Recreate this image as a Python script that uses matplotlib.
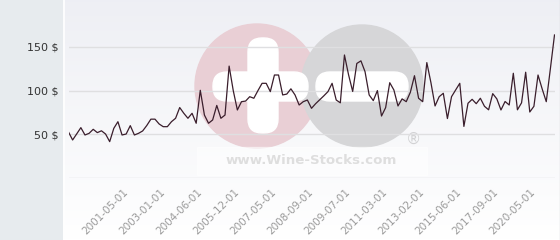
import matplotlib
matplotlib.use('Agg')
import matplotlib.pyplot as plt
import numpy as np
from matplotlib.patches import Circle, FancyBboxPatch, Rectangle

prices = [52.6, 43.5, 50.5, 57.6, 49.2, 51.1, 55.7, 51.9, 54.0, 50.3,
          41.6, 56.8, 64.4, 49.2, 50.3, 59.9, 49.2, 51.1, 53.8, 60.0,
          67.3, 67.3, 61.8, 58.7, 58.7, 64.4, 68.3, 80.6, 74.0, 68.3,
          74.0, 62.6, 100.3, 72.0, 62.6, 66.4, 83.0, 68.3, 72.0, 128.0,
          100.0, 77.8, 87.3, 88.0, 93.0, 91.2, 100.0, 108.3, 108.3, 98.8,
          117.8, 117.8, 95.0, 96.0, 102.0, 95.0, 83.5, 87.3, 89.2, 79.7,
          85.0, 89.5, 94.0, 98.8, 108.3, 89.2, 86.0, 140.7, 118.0, 99.0,
          131.0, 134.0, 121.6, 95.0, 88.5, 100.0, 70.9, 80.5, 109.0, 100.7,
          82.4, 90.5, 87.3, 98.0, 117.0, 91.2, 87.3, 132.0, 109.0, 82.4,
          93.0, 96.9, 68.0, 93.0, 100.7, 108.3, 59.0, 85.5, 90.0, 85.0,
          91.2, 82.0, 78.0, 96.5, 90.5, 77.8, 87.5, 83.5, 119.8, 78.0,
          86.0, 121.0, 75.5, 82.0, 117.8, 102.0, 87.3, 125.0, 163.6]

tick_labels = ['2001-05-01', '2003-01-01', '2004-06-01', '2005-12-01',
               '2007-05-01', '2008-09-01', '2009-07-01', '2011-03-01',
               '2013-02-01', '2015-06-01', '2017-09-01', '2020-05-01']
tick_first = 14
tick_step = 9

y_ticks = [0, 50, 100, 150]
y_tick_labels = ['', '50 $', '100 $', '150 $']

W, H = 560, 240
fig = plt.figure(figsize=(W / 100, H / 100), dpi=100)

# ---- background (pixel coordinates) ----
bg = fig.add_axes([0, 0, 1, 1], zorder=0)
bg.set_xlim(0, W)
bg.set_ylim(H, 0)
bg.axis('off')
bg.add_patch(Rectangle((0, 0), 63, H, color='#e7ebee', zorder=1))
g = np.linspace(0, 1, 200)[:, None, None]
top_c = np.array([0.933, 0.937, 0.957])
bot_c = np.array([1.0, 1.0, 1.0])
img = top_c + (bot_c - top_c) * g
bg.imshow(img, extent=(63, W, H, 0), aspect='auto', zorder=1, interpolation='bilinear')
bg.plot([63.5, 63.5], [0, H], color='white', lw=1.2, zorder=2)
bg.plot([559.5, 559.5], [0, H], color='#d8dadd', lw=1, zorder=2)

# ---- watermark ----
bg.add_patch(Circle((257, 86), 62, color='#e9cfd5', zorder=3))
bg.add_patch(Circle((362, 86), 61, color='#d6d6d8', zorder=3))
bg.add_patch(FancyBboxPatch((248 + 14, 38 + 14), 2, 95 - 28,
                            boxstyle='round,pad=14', color='white', zorder=4))
bg.add_patch(FancyBboxPatch((213 + 14, 72 + 14), 95 - 28, 1,
                            boxstyle='round,pad=14', color='white', zorder=4))
bg.add_patch(FancyBboxPatch((316 + 14, 72 + 14), 92 - 28, 1,
                            boxstyle='round,pad=14', color='white', zorder=4))
bg.add_patch(Rectangle((197, 147), 230, 28, color='white', alpha=0.5, zorder=4))
bg.text(311, 161, 'www.Wine-Stocks.com', fontsize=9.6, fontweight='bold',
        color='#dedede', ha='center', va='center', zorder=5)
bg.text(413, 139, '®', fontsize=11, color='#d2d2d4', ha='center', va='center', zorder=5)

# ---- chart ----
ax = fig.add_axes([68.5 / W, 62 / H, 486 / W, 153 / H], zorder=2)
ax.patch.set_alpha(0)
x = np.arange(len(prices))
ax.plot(x, prices, color='#3a1e2c', lw=0.9, zorder=3)
ax.set_xlim(0, len(prices) - 1)
ax.set_ylim(0, 175)
ax.set_yticks(y_ticks)
ax.set_yticklabels(y_tick_labels)
ax.grid(axis='y', color='#dfdfe1', lw=1)
for s in ax.spines.values():
    s.set_visible(False)
ax.tick_params(axis='y', length=0, pad=7, labelsize=8, labelcolor='#333333')
ticks = [tick_first + i * tick_step for i in range(len(tick_labels))]
ax.set_xticks(ticks)
ax.set_xticklabels(tick_labels, rotation=45, ha='right', va='center',
                   rotation_mode='anchor')
ax.tick_params(axis='x', length=0, pad=9, labelsize=7.5, labelcolor='#9a9a9a')
ax.set_axisbelow(True)

fig.savefig('out.png', dpi=100)
